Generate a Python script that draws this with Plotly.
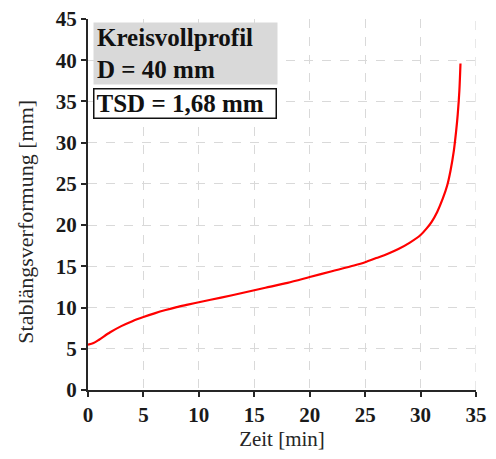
import plotly.graph_objects as go

# Zeit [min] und Stablängsverformung [mm]
zeit = [0, 0.5, 1, 2, 3, 4, 5, 6, 7, 8, 9, 10, 12, 14, 16, 18, 20, 22, 24, 25, 26, 27,
        28, 29, 30, 30.55, 31, 31.5, 32, 32.4, 32.7, 33.0, 33.2, 33.35, 33.5, 33.6]
verformung = [5.5, 5.7, 6.1, 7.0, 7.75, 8.35, 8.85, 9.3, 9.7, 10.05, 10.35, 10.65, 11.2, 11.8,
              12.4, 13.0, 13.7, 14.4, 15.1, 15.5, 16.0, 16.5, 17.1, 17.85, 18.8, 19.6,
              20.4, 21.6, 23.2, 24.8, 26.6, 29.0, 31.3, 33.4, 36.3, 39.6]

x_ticks = [0, 5, 10, 15, 20, 25, 30, 35]
y_ticks = [0, 5, 10, 15, 20, 25, 30, 35, 40, 45]

font = "Liberation Serif, Times New Roman, serif"

fig = go.Figure()
fig.add_trace(go.Scatter(x=zeit, y=verformung, mode="lines", line_shape="spline",
                         line=dict(color="#ff0000", width=2.2, smoothing=0.8), showlegend=False))

axis_common = dict(
    showgrid=True, gridcolor="#d9d9d9", griddash="dash", gridwidth=1.2,
    showline=True, linecolor="#262626", linewidth=2,
    ticks="outside", ticklen=5, tickwidth=1.5, tickcolor="#262626",
    tickfont=dict(family=font, size=21, color="#1a1a1a", weight="bold"),
    zeroline=False, automargin=False, ticklabeloverflow="allow",
)
fig.update_xaxes(range=[0, 35], tickvals=x_ticks, title=dict(text="Zeit [min]", standoff=2,
                 font=dict(family=font, size=21, color="#262626")), **axis_common)
fig.update_yaxes(range=[0, 45], tickvals=y_ticks, **axis_common)

# y-Titel als Annotation, etwas unterhalb der Achsmitte wie im Original
fig.add_annotation(xref="paper", yref="paper", x=-0.162, y=0.454, xanchor="center", yanchor="middle",
                   text="Stablängsverformung [mm]", textangle=-90, showarrow=False,
                   font=dict(family=font, size=22, color="#262626"))

# rechte Gitterlinie bei 35 min
fig.add_shape(type="line", xref="x", yref="paper", x0=35, x1=35, y0=0, y1=1,
              line=dict(color="#d9d9d9", width=1.2, dash="dash"), layer="below")

fig.add_annotation(xref="paper", yref="paper", x=0.013, y=0.992, xanchor="left", yanchor="top",
                   text="<b>Kreisvollprofil<br>D = 40 mm</b>", align="left", showarrow=False,
                   bgcolor="#d9d9d9", width=177, height=55, borderpad=3,
                   font=dict(family=font, size=25, color="#111111"))
fig.add_annotation(xref="paper", yref="paper", x=0.013, y=0.814, xanchor="left", yanchor="top",
                   text="<b>TSD = 1,68 mm</b>", align="left", showarrow=False,
                   bgcolor="white", bordercolor="#111111", borderwidth=1.5, width=177, height=24,
                   borderpad=2, font=dict(family=font, size=25, color="#111111"))

# Seite hat 8 px Rand, daher etwas kleinere Figur
fig.update_layout(width=488, height=451, margin=dict(l=80, r=20, t=11, b=69),
                  plot_bgcolor="white", paper_bgcolor="white")
fig.write_html("out.html")
